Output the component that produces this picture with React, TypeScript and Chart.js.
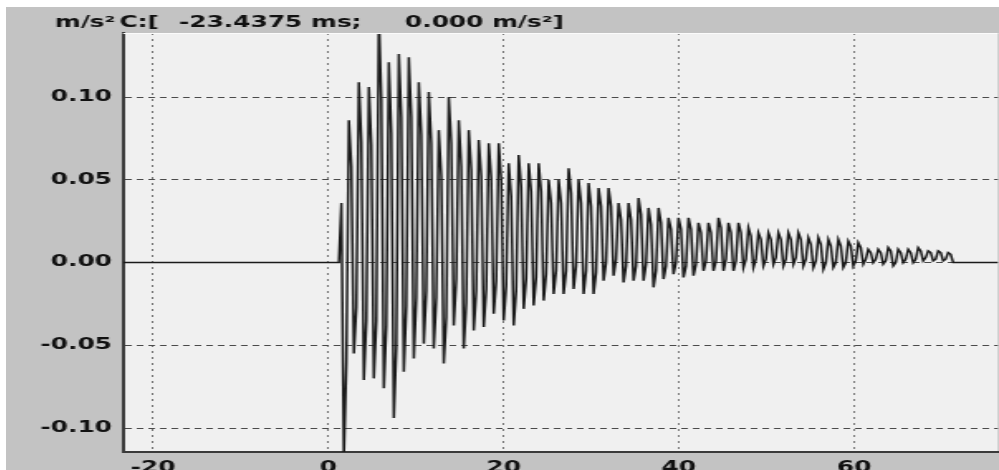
import React, { useEffect, useRef } from 'react';
import Chart from 'chart.js/auto';

// Axis ticks (ms and m/s²)
const xTickValues = [-20, 0, 20, 40, 60];
const yTickValues = [-0.1, -0.05, 0, 0.05, 0.1];
const xMin = -23.4375;
const xMax = 76.4;
const yMin = -0.1145;
const yMax = 0.1387;

// Header read-out
const headerParts = ['m/s²', 'C:[', '-23.4375 ms;', '0.000 m/s²]'];

// Signal: flat baseline, then sampled acceleration (m/s²) every sampleStep ms from sampleStart
const baselineStart = -23.4375;
const baselineEnd = 76.4;
const sampleStart = 1.2;
const sampleStep = 0.285;
const accel = [
  0, 0.036, -0.118, -0.06,
  0.086, 0.058, -0.055, -0.027,
  0.109, 0.073, -0.071, -0.035,
  0.106, 0.071, -0.070, -0.035,
  0.150, 0.098, -0.076, -0.038,
  0.121, 0.078, -0.094, -0.051,
  0.126, 0.088, -0.066, -0.026,
  0.124, 0.088, -0.058, -0.021,
  0.109, 0.077, -0.049, -0.017,
  0.103, 0.072, -0.052, -0.021,
  0.080, 0.052, -0.061, -0.033,
  0.100, 0.072, -0.038, -0.010,
  0.086, 0.058, -0.052, -0.024,
  0.080, 0.056, -0.041, -0.017,
  0.074, 0.052, -0.039, -0.016,
  0.072, 0.051, -0.031, -0.011,
  0.072, 0.050, -0.035, -0.014,
  0.060, 0.040, -0.038, -0.017,
  0.065, 0.046, -0.028, -0.010,
  0.060, 0.043, -0.026, -0.009,
  0.060, 0.043, -0.023, -0.007,
  0.050, 0.036, -0.019, -0.005,
  0.050, 0.036, -0.019, -0.005,
  0.057, 0.042, -0.016, -0.002,
  0.050, 0.036, -0.019, -0.005,
  0.048, 0.034, -0.019, -0.006,
  0.045, 0.034, -0.011, 0.000,
  0.045, 0.034, -0.008, 0.002,
  0.036, 0.026, -0.012, -0.002,
  0.036, 0.026, -0.011, -0.002,
  0.039, 0.029, -0.011, -0.001,
  0.033, 0.023, -0.015, -0.005,
  0.033, 0.024, -0.010, -0.002,
  0.027, 0.020, -0.007, 0.000,
  0.027, 0.020, -0.009, -0.002,
  0.027, 0.020, -0.008, -0.001,
  0.024, 0.018, -0.005, 0.001,
  0.024, 0.018, -0.005, 0.001,
  0.027, 0.021, -0.005, 0.002,
  0.024, 0.018, -0.005, 0.001,
  0.024, 0.018, -0.003, 0.002,
  0.021, 0.016, -0.003, 0.002,
  0.018, 0.014, -0.002, 0.002,
  0.018, 0.014, -0.001, 0.003,
  0.018, 0.014, -0.002, 0.002,
  0.018, 0.014, -0.001, 0.003,
  0.018, 0.014, -0.002, 0.002,
  0.015, 0.011, -0.003, 0.001,
  0.015, 0.011, -0.004, 0.000,
  0.014, 0.010, -0.003, 0.000,
  0.014, 0.010, -0.003, 0.000,
  0.013, 0.010, -0.002, 0.001,
  0.012, 0.009, -0.001, 0.002,
  0.008, 0.006, 0.000, 0.002,
  0.008, 0.006, -0.001, 0.001,
  0.009, 0.007, -0.002, 0.000,
  0.008, 0.006, 0.000, 0.002,
  0.008, 0.006, 0.000, 0.002,
  0.009, 0.007, 0.001, 0.003,
  0.007, 0.006, 0.001, 0.002,
  0.007, 0.006, 0.001, 0.002,
  0.006, 0.005, 0.000, 0.000,
  0,
];

const FONT = { family: '"DejaVu Sans", sans-serif', size: 15, weight: 'bold' as const };
const HEADER_FONT = 'bold 15px "DejaVu Sans", sans-serif';
const HEADER_X = [29.5, 68.5, 104.5, 241];

export default function App() {
  const ref = useRef<HTMLCanvasElement | null>(null);

  useEffect(() => {
    if (!ref.current) return;
    const points = [
      { x: baselineStart, y: 0 },
      ...accel.map((v, i) => ({ x: sampleStart + i * sampleStep, y: v })),
      { x: baselineEnd, y: 0 },
    ];

    const framePlugin = {
      id: 'frame',
      beforeDraw(chart: any) {
        const { ctx, chartArea: a } = chart;
        ctx.save();
        ctx.fillStyle = '#f0f0f0';
        ctx.fillRect(a.left, a.top, a.right - a.left, a.bottom - a.top);
        ctx.restore();
      },
      afterDraw(chart: any) {
        const { ctx, chartArea: a } = chart;
        ctx.save();
        ctx.strokeStyle = '#fbfbfb';
        ctx.lineWidth = 1;
        ctx.beginPath();
        ctx.moveTo(a.left, a.top + 0.5);
        ctx.lineTo(a.right, a.top + 0.5);
        ctx.stroke();
        ctx.fillStyle = '#111';
        ctx.font = HEADER_FONT;
        ctx.textBaseline = 'alphabetic';
        headerParts.forEach((p, i) => ctx.fillText(p, HEADER_X[i], 20));
        ctx.restore();
      },
    };

    const chart = new Chart(ref.current, {
      type: 'line',
      data: {
        datasets: [
          {
            data: points,
            borderColor: '#1a1a1a',
            borderWidth: 1.5,
            pointRadius: 0,
            tension: 0,
            fill: false,
          },
        ],
      },
      options: {
        animation: false,
        responsive: true,
        maintainAspectRatio: false,
        parsing: false,
        layout: { padding: { top: 26, left: 0, right: 0, bottom: 0 } },
        plugins: { legend: { display: false }, tooltip: { enabled: false }, title: { display: false } },
        scales: {
          x: {
            type: 'linear',
            min: xMin,
            max: xMax,
            afterFit: (s: any) => { s.height = 18; },
            afterBuildTicks: (s: any) => { s.ticks = xTickValues.map((v) => ({ value: v })); },
            ticks: {
              padding: 7,
              maxRotation: 0,
              autoSkip: false,
              color: '#111',
              font: FONT,
              callback: (v: any) => String(v),
            },
            grid: { color: '#777777', lineWidth: 1, drawTicks: false },
            border: { display: true, color: '#3a3a3a', width: 2, dash: [2, 4] },
          },
          y: {
            type: 'linear',
            min: yMin,
            max: yMax,
            afterFit: (s: any) => { s.width = 70.7; },
            afterBuildTicks: (s: any) => { s.ticks = yTickValues.map((v) => ({ value: v })); },
            ticks: {
              padding: 6.7,
              color: '#111',
              font: FONT,
              callback: (v: any) => Number(v).toFixed(2),
            },
            grid: { color: '#4a4a4a', lineWidth: 1, drawTicks: false },
            border: { display: true, color: '#3a3a3a', width: 2, dash: [4, 3] },
          },
        },
      },
      plugins: [framePlugin],
    } as any);

    return () => chart.destroy();
  }, []);

  return (
    <div style={{ position: 'fixed', left: 0, top: 0, width: 999, height: 470, background: '#ffffff', overflow: 'hidden' }}>
      <div style={{ position: 'absolute', left: 6, top: 7, width: 993, height: 463, background: '#c3c3c3', overflow: 'hidden' }}>
        <div style={{ position: 'absolute', left: 0, top: 0, width: 600, height: 463, transform: 'scaleX(1.655)', transformOrigin: '0 0' }}>
          <canvas ref={ref} />
        </div>
      </div>
    </div>
  );
}
